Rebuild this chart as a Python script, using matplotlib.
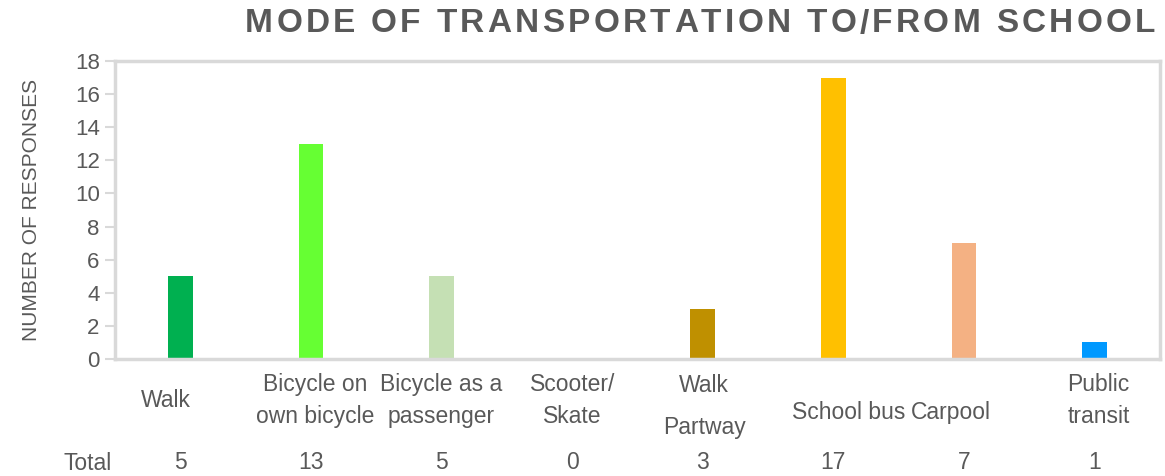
import numpy as np
import matplotlib.pyplot as plt

plt.rcParams['font.family'] = ['Liberation Sans', 'DejaVu Sans']

modes = ["Walk", "Bicycle on\nown bicycle", "Bicycle as a\npassenger", "Scooter/\nSkate",
         "Walk\nPartway", "School bus", "Carpool", "Public\ntransit"]
totals = [5, 13, 5, 0, 3, 17, 7, 1]
colors = ["#00B050", "#66FF33", "#C5E0B4", "#A9D18E", "#BF9000", "#FFC000", "#F4B183", "#0099FF"]
# small nudges of the category labels, as in the source table
label_dx = [-0.11, 0.03, 0, 0, 0.01, 0.12, -0.1, 0.03]
label_y = [-0.139, -0.139, -0.139, -0.139, -0.159, -0.178, -0.178, -0.139]
label_ls = [1.5, 1.5, 1.5, 1.5, 2.05, 1.5, 1.5, 1.5]

grey = "#595959"
edge = "#D9D9D9"

fig = plt.figure(figsize=(11.65, 4.76), dpi=100)
ax = fig.add_axes([0.0987, 0.2458, 0.897, 0.626])

x = np.arange(len(modes))
ax.bar(x, totals, width=0.19, color=colors)

ax.set_xlim(-0.5, len(modes) - 0.5)
ax.set_ylim(0, 18)
ax.set_yticks(range(0, 19, 2))
ax.set_xticks([])
ax.tick_params(axis='y', colors=edge, labelcolor=grey, labelsize=16, length=7, width=1.5, pad=4)
for s in ax.spines.values():
    s.set_color(edge)
    s.set_linewidth(2.5)

ax.set_ylabel("NUMBER OF RESPONSES", color=grey, fontsize=15, labelpad=24)

# category labels and the "Total" row underneath
for i, lab in enumerate(modes):
    ax.text(i + label_dx[i], label_y[i], lab, transform=ax.get_xaxis_transform(),
            ha='center', va='center', fontsize=16.5, color=grey, linespacing=label_ls[i])
    ax.text(i, -0.349, str(totals[i]), transform=ax.get_xaxis_transform(),
            ha='center', va='center', fontsize=16.5, color=grey)
fig.text(88 / 1165, 1 - 463 / 476, "Total", ha='center', va='center', fontsize=16.5, color=grey)

# letter-spaced bold title
title = "MODE OF TRANSPORTATION TO/FROM SCHOOL"
renderer = fig.canvas.get_renderer()
widths = []
for ch in title:
    t = fig.text(0, 0, ch if ch != " " else "M", fontsize=24, fontweight='bold', color=grey)
    w = t.get_window_extent(renderer).width
    if ch == " ":
        w = w * 0.28 / 0.833
    t.remove()
    widths.append(w)
left, right = 245.0, 1155.0
gap = (right - left - sum(widths)) / (len(title) - 1)
pos = left
for ch, w in zip(title, widths):
    if ch != " ":
        fig.text(pos / 1165, 1 - 24 / 476, ch, fontsize=24, fontweight='bold',
                 color=grey, ha='left', va='center')
    pos += w + gap

fig.savefig("out.png", dpi=100)
